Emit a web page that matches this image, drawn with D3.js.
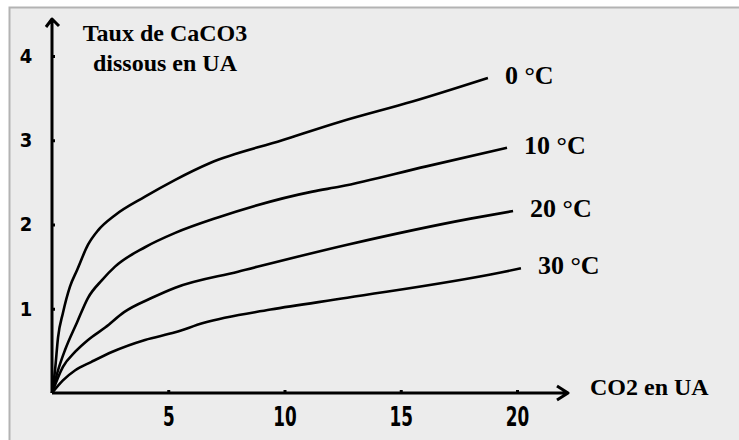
<!DOCTYPE html>
<html>
<head>
<meta charset="utf-8">
<script src="https://cdn.jsdelivr.net/npm/d3@7"></script>
<style>
  body { margin: 0; background: white; }
  svg { display: block; }
  .serif { font-family: "Liberation Serif", "Times New Roman", Times, "DejaVu Serif", serif; font-weight: bold; }
  .num { font-family: "Liberation Sans Narrow", "DejaVu Sans", sans-serif; font-stretch: condensed; font-weight: bold; }
</style>
</head>
<body>
<svg id="drawspace" width="739" height="440"></svg>
<script>
// data
const temps = ["0 °C", "10 °C", "20 °C", "30 °C"];

const co2At0 = [0, 0.13, 0.26, 0.47, 0.77, 1.08, 1.55, 1.98, 2.71, 4.0, 5.3, 6.8, 9.9, 12.4, 15.5, 18.75];
const tauxAt0 = [0, 0.27, 0.66, 0.95, 1.26, 1.46, 1.76, 1.93, 2.11, 2.33, 2.53, 2.73, 3.0, 3.22, 3.46, 3.74];

const co2At10 = [0, 0.26, 0.56, 1.08, 1.55, 2.15, 2.71, 4.0, 5.3, 7.1, 11.2, 12.4, 16.1, 19.57];
const tauxAt10 = [0, 0.27, 0.51, 0.84, 1.13, 1.34, 1.5, 1.73, 1.9, 2.08, 2.39, 2.45, 2.69, 2.91];

const co2At20 = [0, 0.47, 1.0, 1.55, 2.3, 3.1, 4.3, 5.3, 8.0, 12.7, 18.0, 19.83];
const tauxAt20 = [0, 0.31, 0.49, 0.63, 0.78, 0.96, 1.13, 1.25, 1.44, 1.76, 2.07, 2.16];

const co2At30 = [0, 0.47, 1.0, 1.7, 2.6, 4.0, 5.3, 6.5, 9.4, 12.7, 19.3, 20.17];
const tauxAt30 = [0, 0.15, 0.27, 0.37, 0.49, 0.63, 0.72, 0.83, 0.99, 1.13, 1.43, 1.48];

const xTicks = [5, 10, 15, 20];
const yTicks = [1, 2, 3, 4];

let drawSpace = d3.select("#drawspace");
let W = 739, H = 440;

let xs = [co2At0, co2At10, co2At20, co2At30];
let ys = [tauxAt0, tauxAt10, tauxAt20, tauxAt30];
let curves = temps.map((t, i) => ({
  name: t,
  values: xs[i].map((x, j) => ({ x: x, y: ys[i][j] })),
}));

// frame
drawSpace.append("rect").attr("width", W).attr("height", H).attr("fill", "white");
drawSpace.append("rect")
  .attr("x", 9).attr("y", 7)
  .attr("width", W - 9).attr("height", H - 7)
  .attr("fill", "#ececec");
drawSpace.append("path")
  .attr("d", `M9.5,${H} V7.5 H${W}`)
  .attr("fill", "none")
  .attr("stroke", "#b3b3b3")
  .attr("stroke-width", 2);

let xScale = d3.scaleLinear().domain([0, 20]).range([52, 517]);
let yScale = d3.scaleLinear().domain([0, 4]).range([393, 56]);

// x axis
let gx = drawSpace.append("g")
  .attr("transform", "translate(0," + yScale(0) + ")")
  .call(d3.axisBottom(xScale).tickValues(xTicks).tickFormat(d3.format("d"))
    .tickSizeInner(-3).tickSizeOuter(0).tickPadding(15));
gx.select(".domain").remove();
gx.selectAll("line").attr("stroke", "black").attr("stroke-width", 3);
gx.selectAll("text")
  .attr("class", "num")
  .attr("font-family", null)
  .attr("font-size", 26).attr("fill", "black")
  .attr("transform", "scale(0.72,1)");

// y axis
let gy = drawSpace.append("g")
  .attr("transform", "translate(" + xScale(0) + ",0)")
  .call(d3.axisLeft(yScale).tickValues(yTicks).tickFormat(d3.format("d"))
    .tickSizeInner(-3).tickSizeOuter(0).tickPadding(22));
gy.select(".domain").remove();
gy.selectAll("line").attr("stroke", "black").attr("stroke-width", 3);
gy.selectAll("text")
  .attr("class", "num")
  .attr("font-family", null)
  .attr("font-size", 20).attr("fill", "black")
  .attr("text-anchor", "middle")
  .attr("x", -26);

// axis lines with arrows
let x0 = xScale(0), y0 = yScale(0);
drawSpace.append("path")
  .attr("d", `M${x0},${y0} H568 M557,386 L568,393 L557,400`)
  .attr("fill", "none").attr("stroke", "black").attr("stroke-width", 3)
  .attr("stroke-linejoin", "round");
drawSpace.append("path")
  .attr("d", `M${x0},${y0} V19 M46,27 L${x0},19 L59,26`)
  .attr("fill", "none").attr("stroke", "black").attr("stroke-width", 3)
  .attr("stroke-linejoin", "round");

// axis titles
let title = drawSpace.append("text")
  .attr("class", "serif")
  .attr("font-size", 24).attr("text-anchor", "middle");
title.append("tspan").attr("x", 165).attr("y", 41).text("Taux de CaCO3");
title.append("tspan").attr("x", 165).attr("y", 71).text("dissous en UA");

drawSpace.append("text")
  .attr("class", "serif")
  .attr("x", 590).attr("y", 395)
  .attr("font-size", 24)
  .text("CO2 en UA");

// curves
let line = d3.line()
  .x((d) => xScale(d.x))
  .y((d) => yScale(d.y))
  .curve(d3.curveMonotoneX);

drawSpace.selectAll(".curve")
  .data(curves)
  .enter()
  .append("path")
  .attr("class", "curve")
  .attr("fill", "none")
  .attr("stroke", "black")
  .attr("stroke-width", 2.6)
  .attr("d", (d) => line(d.values));

// temperature labels at the end of each curve
drawSpace.selectAll(".lab")
  .data(curves)
  .enter()
  .append("text")
  .attr("class", "lab serif")
  .attr("x", (d) => xScale(d.values[d.values.length - 1].x) + 17)
  .attr("y", (d) => yScale(d.values[d.values.length - 1].y) + 6)
  .attr("font-size", 26)
  .text((d) => d.name);
</script>
</body>
</html>
